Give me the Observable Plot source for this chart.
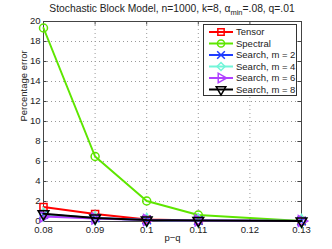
<!DOCTYPE html>
<html><head><meta charset="utf-8">
<script src="https://cdn.jsdelivr.net/npm/d3@7"></script>
<script src="https://cdn.jsdelivr.net/npm/@observablehq/plot@0.6"></script>
<style>body{margin:0;background:#fff}svg{display:block}svg text{font-family:"Liberation Sans",Arial,Helvetica,sans-serif}</style>
</head><body><div id="chart"></div>
<script>
const pq = [0.08, 0.09, 0.1, 0.11, 0.13];
const xTicks = [0.08, 0.09, 0.1, 0.11, 0.12, 0.13];
const yTicks = [0, 2, 4, 6, 8, 10, 12, 14, 16, 18, 20];
const names = ["Tensor", "Spectral", "Search, m = 2", "Search, m = 4", "Search, m = 6", "Search, m = 8"];
const colors = ["#ff0000", "#5ee600", "#1f3cff", "#72f5d8", "#b040ff", "#000000"];
const symbols = ["square", "circle", "times", "diamond", "triangle", "triangle"];
const rotations = [0, 0, 0, 0, 90, 180];
const tensor = [1.45, 0.75, 0.2, 0.1, 0.05];
const spectral = [19.35, 6.5, 2.05, 0.65, 0.05];
const search2 = [0.7, 0.35, 0.15, 0.1, 0.05];
const search4 = [0.7, 0.33, 0.15, 0.1, 0.05];
const search6 = [0.5, 0.3, 0.15, 0.1, 0.05];
const search8 = [0.77, 0.35, 0.15, 0.1, 0.05];
const series = [tensor, spectral, search2, search4, search6, search8];

const marks = [
  Plot.gridX(xTicks, {stroke: "#999", strokeOpacity: 1, strokeDasharray: "1,3"}),
  Plot.gridY(yTicks, {stroke: "#999", strokeOpacity: 1, strokeDasharray: "1,3"}),
  Plot.frame({stroke: "#444"}),
  Plot.axisX(xTicks, {tickSize: 0, tickPadding: 5, fontSize: 9.5, tickFormat: d => String(d), label: null}),
  Plot.axisY(yTicks, {tickSize: 0, tickPadding: 3, dy: -1, fontSize: 9.5, label: null}),
  Plot.ruleX(xTicks, {x: d => d, y1: 0, y2: 0.35, stroke: "#444"}),
  Plot.ruleX(xTicks, {x: d => d, y1: 19.65, y2: 20, stroke: "#444"}),
  Plot.ruleY(yTicks, {y: d => d, x1: 0.08, x2: 0.0807, stroke: "#444"}),
  Plot.ruleY(yTicks, {y: d => d, x1: 0.1293, x2: 0.13, stroke: "#444"}),
  Plot.text(["p\u2212q"], {frameAnchor: "bottom", dy: 19, fontSize: 9.5, text: d => d}),
  Plot.text(["Percentage error"], {frameAnchor: "left", dx: -20, rotate: -90, fontSize: 9.5, text: d => d})
];
series.forEach((vals, i) => {
  const data = pq.map((x, j) => ({x, y: vals[j]}));
  marks.push(Plot.line(data, {x: "x", y: "y", stroke: colors[i], strokeWidth: 2}));
  marks.push(Plot.dot(data, {x: "x", y: "y", stroke: colors[i], strokeWidth: 1.5, symbol: symbols[i], r: 4, rotate: rotations[i], fill: "none"}));
});

const svg = Plot.plot({
  width: 332, height: 249,
  marginLeft: 43, marginRight: 31, marginTop: 21, marginBottom: 28,
  x: {domain: [0.08, 0.13]},
  y: {domain: [0, 20]},
  style: {fontFamily: "'Liberation Sans', Arial, sans-serif", fontSize: "9.5px", color: "#222"},
  marks
});
document.getElementById("chart").append(svg);

const s = d3.select(svg);
const title = s.append("text").attr("x", 172).attr("y", 12).attr("text-anchor", "middle")
  .attr("font-size", 10.3).attr("fill", "#222");
title.append("tspan").text("Stochastic Block Model, n=1000, k=8, \u03b1");
title.append("tspan").attr("dy", 3).attr("font-size", 7.5).text("min");
title.append("tspan").attr("dy", -3).text("=.08, q=.01");

const lg = s.append("g").attr("text-anchor", "start");
lg.append("rect").attr("x", 203.5).attr("y", 24.5).attr("width", 93).attr("height", 71)
  .attr("fill", "#fff").attr("stroke", "#333");
const symGen = {square: d3.symbolSquare, circle: d3.symbolCircle, times: d3.symbolTimes, diamond: d3.symbolDiamond2, triangle: d3.symbolTriangle};
names.forEach((n, i) => {
  const y = 32 + i * 11.5;
  lg.append("line").attr("x1", 209).attr("x2", 233).attr("y1", y).attr("y2", y)
    .attr("stroke", colors[i]).attr("stroke-width", 2);
  lg.append("path").attr("d", d3.symbol(symGen[symbols[i]], 40)())
    .attr("transform", `translate(221,${y}) rotate(${rotations[i]})`)
    .attr("fill", "none").attr("stroke", colors[i]).attr("stroke-width", 1.5);
  lg.append("text").attr("x", 236).attr("y", y).attr("dy", "0.35em").attr("font-size", 9.5)
    .attr("text-anchor", "start").attr("fill", "#222").text(n);
});
</script></body></html>
